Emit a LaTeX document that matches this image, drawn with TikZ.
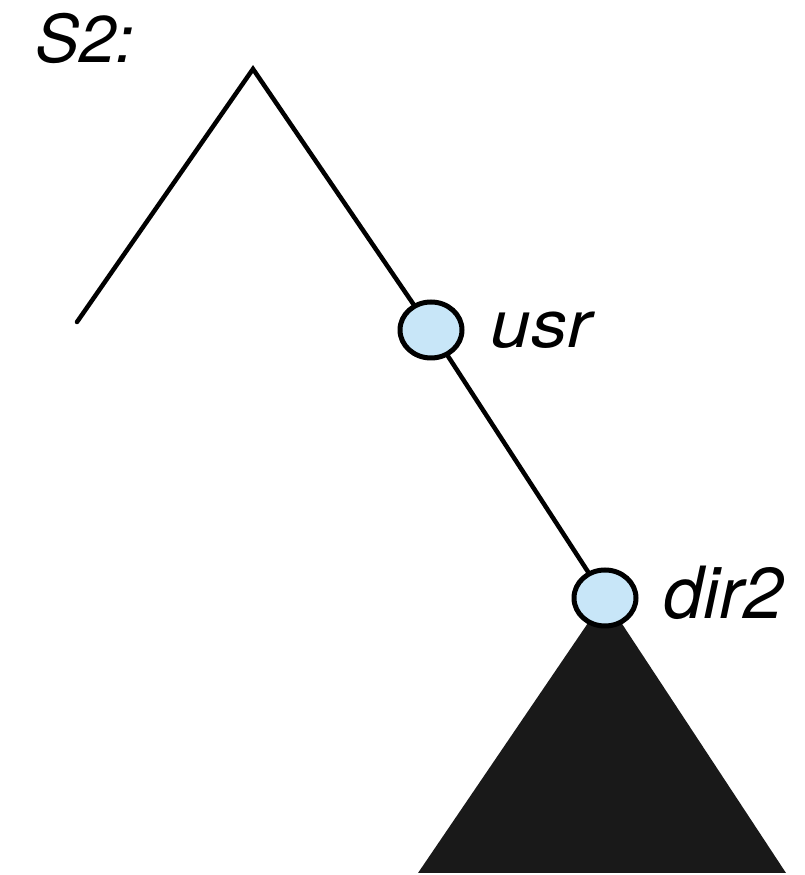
\documentclass[tikz,border=0pt]{standalone}
\usepackage{fontspec}
\setmainfont{TeX Gyre Heros}
\usetikzlibrary{positioning, shapes.geometric, backgrounds}
\definecolor{nodeblue}{RGB}{200,230,248}

\begin{document}
\begin{tikzpicture}[x=1pt, y=1pt,
    dirnode/.style={draw, ellipse, line width=5pt, fill=nodeblue, minimum width=62pt, minimum height=56pt, inner sep=0pt},
    branch/.style={line width=4.5pt, line cap=round},
    lbl/.style={font=\itshape\fontsize{66}{66}\selectfont, inner sep=0pt}]
    \useasboundingbox (0,0) rectangle (805,875);

    % Title
    \node[lbl, anchor=north west] (title) at (35, 862) {S2:};

    % Directory nodes
    \coordinate (root) at (253, 806);
    \coordinate (leftend) at (77, 553);
    \node[dirnode] (usr) at (431, 545) {};
    \node[dirnode] (dir2) at (605, 277) {};

    % Labels
    \node[lbl, anchor=west, xscale=1.1, right=26pt of usr] (usrlabel) {usr};
    \node[lbl, anchor=west, font=\itshape\fontsize{72}{72}\selectfont, right=25pt of dir2, yshift=5pt] (dir2label) {dir2};

    % Branches and subtree
    \coordinate (baseL) at (418, 2);
    \coordinate (baseR) at (786, 2);
    \begin{scope}[on background layer]
        \draw[branch] (leftend) -- (root) -- (usr);
        \draw[branch] (usr) -- (dir2);
        \fill[black!90] (dir2.center) -- (baseL) -- (baseR) -- cycle;
    \end{scope}
\end{tikzpicture}
\end{document}
